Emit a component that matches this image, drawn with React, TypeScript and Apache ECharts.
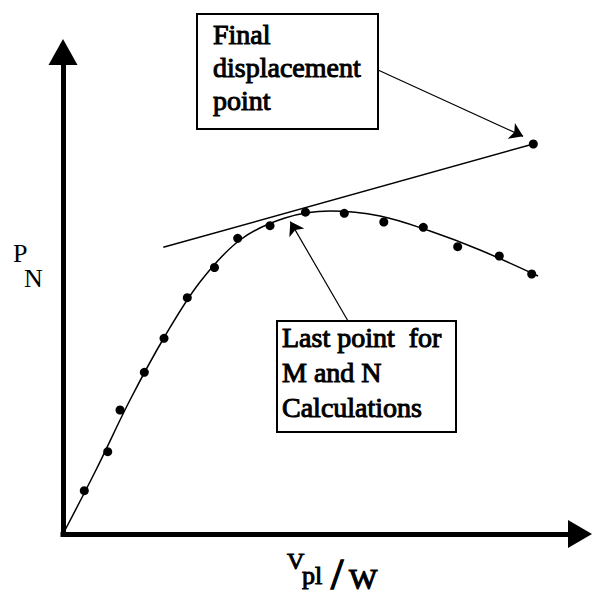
import React, { useEffect, useRef } from "react";
import * as echarts from "echarts";

// Measured data points (arbitrary schematic units, origin at axes crossing)
const pointsX = [4.12, 8.65, 11.03, 15.73, 19.54, 24.04, 29.3, 33.79, 40.04, 46.9, 54.41, 62.05, 69.69, 76.34, 84.39, 90.66];
const pointsY = [8.98, 17.07, 25.73, 33.55, 40.6, 49.02, 55.29, 61.35, 63.96, 66.76, 66.54, 64.73, 63.63, 59.61, 57.68, 53.94];

// Fitted load curve
const curveX = [0, 6.38, 12.96, 19.73, 26.5, 34.24, 42.94, 51.64, 61.32, 70.99, 80.66, 91.88];
const curveY = [0, 13.28, 27.8, 41.08, 52.28, 61.0, 65.56, 67.01, 65.98, 62.86, 58.92, 53.53];

// Final displacement point and tangent line
const finalPoint = [90.97, 80.91];
const tangentX = [19.4, 90.97];
const tangentY = [59.48, 80.91];

// Annotation arrows [start, end]
const arrowFinal = [[60.93, 96.27], [89.0, 82.5]];
const arrowLast = [[55.13, 44.19], [43.97, 64.81]];

const boxFinalLines = ["Final", "displacement", "point"];
const boxLastLines = ["Last point  for", "M and N", "Calculations"];

const serif = "Liberation Serif";

// heavy = simulated bold weight via a text outline in the same colour
function ttl(text: string, x: number, y: number, size: number, heavy: number) {
  return {
    text, left: x, top: y, padding: 0, z: 10,
    textStyle: {
      fontFamily: serif, fontSize: size, fontWeight: "normal", color: "#000",
      textBorderColor: heavy > 0 ? "#000" : "transparent", textBorderWidth: heavy,
    },
  };
}

export default function App() {
  const ref = useRef<HTMLDivElement>(null);
  useEffect(() => {
    if (!ref.current) return;
    const chart = echarts.init(ref.current, null, { renderer: "svg" });
    const titles: any[] = [];
    boxFinalLines.forEach((t, i) => titles.push(ttl(t, 213, 20 + i * 33, 28, 1)));
    boxLastLines.forEach((t, i) => titles.push(ttl(t, 282, 323 + i * 35, 28, 1)));
    titles.push(ttl("P", 13, 240, 26, 0));
    titles.push(ttl("N", 24, 265, 26, 0));
    titles.push(ttl("V", 287, 549, 24, 1));
    titles.push(ttl("pl", 302, 562, 26, 1));
    titles.push(ttl("/", 331, 552, 44, 1.6));
    titles.push(ttl("W", 349, 563, 30, 1.2));
    chart.setOption({
      animation: false,
      backgroundColor: "#fff",
      textStyle: { fontFamily: serif },
      title: titles,
      grid: { left: 63, top: 52, width: 517, height: 482 },
      xAxis: {
        type: "value", min: 0, max: 100,
        axisLine: { show: true, onZero: true, symbol: ["none", "triangle"], symbolSize: [28, 24], lineStyle: { color: "#000", width: 5, cap: "square" } },
        axisTick: { show: false }, axisLabel: { show: false }, splitLine: { show: false },
      },
      yAxis: {
        type: "value", min: 0, max: 100,
        axisLine: { show: true, onZero: true, symbol: ["none", "triangle"], symbolSize: [29, 26], lineStyle: { color: "#000", width: 5, cap: "square" } },
        axisTick: { show: false }, axisLabel: { show: false }, splitLine: { show: false },
      },
      series: [
        {
          type: "line", data: curveX.map((x, i) => [x, curveY[i]]), smooth: 0.35, showSymbol: false,
          lineStyle: { color: "#000", width: 1.5 }, silent: true,
        },
        {
          type: "line", data: tangentX.map((x, i) => [x, tangentY[i]]), showSymbol: false,
          lineStyle: { color: "#000", width: 1.5 }, silent: true,
        },
        {
          type: "scatter", data: pointsX.map((x, i) => [x, pointsY[i]]), symbolSize: 9,
          itemStyle: { color: "#000", opacity: 1 }, silent: true,
        },
        {
          type: "scatter", data: [finalPoint], symbolSize: 9, itemStyle: { color: "#000", opacity: 1 }, silent: true,
        },
        {
          type: "lines", coordinateSystem: "cartesian2d",
          data: [{ coords: arrowFinal }, { coords: arrowLast }],
          symbol: ["none", "arrow"], symbolSize: 13,
          lineStyle: { color: "#000", width: 1.2, opacity: 1 }, silent: true,
        },
      ],
      graphic: [
        { type: "rect", shape: { x: 197, y: 14, width: 181, height: 115 }, z: 0, style: { fill: "#fff", stroke: "#000", lineWidth: 2 } },
        { type: "rect", shape: { x: 277, y: 321, width: 179, height: 111 }, z: 0, style: { fill: "#fff", stroke: "#000", lineWidth: 2 } },
      ],
    });
    return () => chart.dispose();
  }, []);
  return <div ref={ref} style={{ position: "absolute", left: 0, top: 0, width: 597, height: 604 }} />;
}
